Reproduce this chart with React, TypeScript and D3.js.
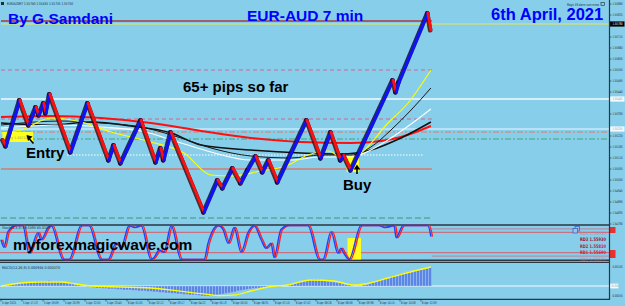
import React from "react";
import * as d3 from "d3";

type P = [number, number];

// ---------- DATA ----------
const priceTicks = [1.5588, 1.55825, 1.5577, 1.55715, 1.5566, 1.55605, 1.5555, 1.55495, 1.5544, 1.55385, 1.5533, 1.55275, 1.5522, 1.55165, 1.5511, 1.55055, 1.55, 1.54945, 1.5489, 1.54835, 1.5478];

const currentPrice = 1.5578;
const boxPrices = [1.55405, 1.55255];

// [bar, price]
const renko: P[] = [
  [0.7, 1.552], [1.7, 1.5517], [6.3, 1.554], [9.3, 1.55275], [11.7, 1.55365], [12.7, 1.55325], [14.3, 1.55385], [15, 1.55335], [16.3, 1.5543],
  [23.3, 1.5514], [29, 1.55385], [36, 1.551], [37.7, 1.55175], [40, 1.55085], [46.7, 1.553], [51.7, 1.5509], [53.3, 1.5516], [54.3, 1.551],
  [56.7, 1.5524], [67.7, 1.5484], [72.3, 1.55], [74, 1.5496], [77.3, 1.5506], [80, 1.54985], [82.3, 1.5505], [85, 1.5512], [87.3, 1.5504],
  [89.3, 1.551], [92.3, 1.5499], [102, 1.553], [106.7, 1.5511], [110, 1.5524], [113.3, 1.551], [114.3, 1.55125], [116.7, 1.5505],
  [130.7, 1.555], [131.7, 1.5544], [132.7, 1.5549], [142.3, 1.55835], [143.3, 1.5575],
];

const maRed: P[] = [[0, 1.55315], [16.7, 1.5532], [33.3, 1.5531], [50, 1.55285], [66.7, 1.55245], [83.3, 1.5521], [100, 1.5519], [116.7, 1.55185], [126.7, 1.55195], [133.3, 1.55215], [143.3, 1.5527]];
const maBlackSlow: P[] = [[0, 1.55285], [16.7, 1.55275], [30, 1.5529], [43.3, 1.5527], [56.7, 1.55235], [66.7, 1.55175], [83.3, 1.5515], [100, 1.55135], [113.3, 1.5513], [123.3, 1.5515], [133.3, 1.5521], [143.3, 1.5529]];
const maBlackFast: P[] = [[0, 1.55275], [20, 1.55295], [33.3, 1.55285], [46.7, 1.55265], [60, 1.5521], [70, 1.5516], [83.3, 1.5512], [96.7, 1.5511], [106.7, 1.55125], [116.7, 1.55125], [123.3, 1.55165], [130, 1.5525], [136.7, 1.5535], [143.3, 1.5546]];
const maWhite: P[] = [[0, 1.5526], [20, 1.55275], [33.3, 1.55265], [46.7, 1.55245], [60, 1.55185], [70, 1.5514], [83.3, 1.551], [96.7, 1.551], [106.7, 1.55115], [116.7, 1.55115], [123.3, 1.5515], [130, 1.5521], [136.7, 1.5528], [143.3, 1.55355]];
const maYellow: P[] = [[0, 1.55235], [6.7, 1.5525], [16.7, 1.5531], [26.7, 1.5529], [36.7, 1.5524], [50, 1.5519], [61, 1.55135], [70, 1.55025], [76.7, 1.5502], [86.7, 1.55045], [95, 1.5507], [102.3, 1.55125], [109, 1.55145], [115, 1.551], [120, 1.55135], [129, 1.55285], [135.7, 1.55385], [143.3, 1.5555]];

const levelPrices = [1.55795, 1.5578, 1.5555, 1.55405, 1.55305, 1.55255, 1.5524, 1.55205, 1.55125, 1.55055, 1.5481];

const stochK: P[] = [
  [0, 58], [1, 36], [2.3, 82], [5, 100], [7.3, 100], [9.3, 18], [12.3, 79], [13.3, 58], [15.7, 94], [16.7, 100], [20.7, 0], [22.7, 0],
  [26.7, 100], [29.3, 100], [33.3, 0], [35.7, 0], [38.3, 48], [40, 36], [42.7, 100], [44.3, 94], [46.7, 100], [50, 0], [51, 6], [52.7, 27],
  [54.3, 21], [56.7, 100], [60, 0], [67.7, 0], [69, 48], [72.3, 100], [74, 88], [75.7, 48], [77.7, 94], [80, 21], [82.3, 79], [84.3, 100],
  [86.7, 58], [88.3, 33], [90, 48], [91, 6], [93.3, 88], [95.7, 100], [102.3, 100], [106, 0], [107.3, 0], [110, 82], [112.3, 18], [113.3, 33],
  [114.3, 18], [116, 0], [120, 100], [126, 100], [127.7, 94], [131, 100], [131.7, 64], [134, 100], [140, 100], [142.3, 100], [143.3, 67],
];
const stochLevels = [80, 20];
const stochOuterLevels = [90, 10];

// MACD histogram, units of 0.00001, one value per bar
const macdHist = [
  0.5, 0.5, 1, 1, 1.5, 2,
  3, 3.5, 4, 4, 4.5,
  4.5, 5, 5, 5, 5, 5.5, 5, 5, 5, 4.5,
  4, 3.5, 3, 2, 1.5, 1, 0.5,
  0, -0.5, -1, -1.5, -2, -2, -2.5, -2.5,
  -3, -3, -3, -3.5, -3.5, -4, -4, -4, -4.5, -4.5, -5, -5, -5, -5.5, -5.5,
  -6, -6, -6.5, -6.5, -7, -7, -7.5, -7.5, -8, -8, -8.5, -8.5, -9, -9, -9, -9.5,
  -10, -10, -10, -9.5, -9.5, -9,
  -8.5, -8, -7.5, -7, -6.5, -6, -5, -4.5, -4, -3.5, -3,
  -2.5, -2.5, -2, -2, -1.5, -1.5, -1, -1, -0.5, -0.5, 0, 0,
  1, 2, 3, 4, 5, 5.5, 6, 6.5, 7, 7, 6.5,
  6, 5.5, 5, 4.5, 4, 3.5, 3, 2, 1.5,
  1, 0.5, 0, 0, 0,
  1, 1.5, 2.5, 3.5, 4.5, 5.5, 6.5, 7.5, 8.5, 9.5, 10.5, 11, 12, 13, 14,
  14.5, 15, 15.5, 16, 16.5, 17, 18, 19,
].map((v) => v * 5);
const macdSignal: P[] = [[0, 0], [6.7, 15], [13.3, 20], [20, 20], [25, 10], [30, 0], [50, -10], [66.7, -38], [73.3, -48], [78.3, -44], [83.3, -25], [89, -5], [95.7, 5], [103.3, 30], [111, 25], [117.7, 5], [121, 10], [129, 40], [137.7, 75], [143.3, 95]];

const timeLabels = ["5 Apr 2021", "5 Apr 17:13", "5 Apr 19:09", "5 Apr 20:39", "5 Apr 22:05", "5 Apr 23:40", "6 Apr 01:05", "6 Apr 02:12", "6 Apr 03:17", "6 Apr 04:22", "6 Apr 05:13", "6 Apr 05:55", "6 Apr 06:31", "6 Apr 07:10", "6 Apr 07:52", "6 Apr 08:26", "6 Apr 08:58", "6 Apr 09:36", "6 Apr 10:15", "6 Apr 10:58", "6 Apr 12:09"];

const rdLabels = ["RD4 1.56050", "RD3 1.55930", "RD2 1.55810", "RD1 1.55690", "RD0 1.55570"];

const entryZone = { from: 0.5, to: 10.7, high: 1.5524, low: 1.5519 };
const buyZone = { from: 115.2, to: 119.3, high: 1.5512, low: 1.5504 };
const stochZone = { from: 115.5, to: 120, high: 63, low: 0 };

// ---------- STYLES ----------
const NOW = 143.6;
const levelStyles = [
  { color: "#a53a40", w: 1.3, dash: "", to: NOW, from: 0 },
  { color: "#e6e655", w: 1.2, dash: "", to: 203, from: 0 },
  { color: "#d4648a", w: 1, dash: "4,3", to: NOW, from: 0 },
  { color: "#f2faff", w: 1.5, dash: "", to: 203, from: 0 },
  { color: "#d4648a", w: 1, dash: "4,3", to: NOW, from: 0 },
  { color: "#eaf6ff", w: 1.2, dash: "", to: 203, from: 0 },
  { color: "#ea785c", w: 1.2, dash: "6,2,2,2", to: 203, from: 0 },
  { color: "#3fa57c", w: 1.2, dash: "6,2,2,2", to: 203, from: 0 },
  { color: "#ffffff", w: 1, dash: "1.5,1.5", to: 141, from: 22 },
  { color: "#c28f8f", w: 2, dash: "", to: NOW, from: 0 },
  { color: "#5aa89e", w: 1.3, dash: "6,3", to: NOW, from: 0 },
];

const font = "'Liberation Sans', Arial, sans-serif";
const tiny = "'Liberation Sans Narrow', 'DejaVu Sans Condensed', sans-serif";

export default function App() {
  const x = d3.scaleLinear().domain([0, 203]).range([1, 610]);
  const y = d3.scaleLinear().domain([1.5478, 1.559]).range([224, 0]);
  const ys = d3.scaleLinear().domain([0, 100]).range([259.5, 225.5]);
  const ym = d3.scaleLinear().domain([-55, 105]).range([297, 265]);

  const ma = d3.line<P>().x((d) => x(d[0])).y((d) => y(d[1])).curve(d3.curveMonotoneX);
  const st = d3.line<P>().x((d) => x(d[0])).y((d) => ys(d[1])).curve(d3.curveMonotoneX);
  const sig = d3.line<P>().x((d) => x(d[0])).y((d) => ym(d[1])).curve(d3.curveMonotoneX);

  const segs = renko.slice(1).map((p, i) => ({ a: renko[i], b: p, up: p[1] > renko[i][1] }));
  const AX = 609.5;
  const LX = 622.5;
  const boxed = [currentPrice, ...boxPrices];
  const shownTicks = priceTicks.filter((p) => boxed.every((b) => Math.abs(y(p) - y(b)) > 4.5));

  return (
    <svg width={625} height={306} style={{ position: "fixed", left: 0, top: 0, display: "block" }} fontFamily={font}>
      <rect x={0} y={0} width={625} height={306} fill="#87ceeb" />

      {/* levels */}
      {levelPrices.map((p, i) => {
        const s = levelStyles[i];
        return (
          <line key={"lv" + i} x1={x(s.from)} x2={Math.min(x(s.to), AX)} y1={y(p)} y2={y(p)} stroke={s.color} strokeWidth={s.w} strokeDasharray={s.dash || undefined} />
        );
      })}

      {/* zones */}
      <rect x={x(entryZone.from)} y={y(entryZone.high)} width={x(entryZone.to) - x(entryZone.from)} height={y(entryZone.low) - y(entryZone.high)} fill="#ffff20" />
      <text x={x(entryZone.from) + 2} y={y(entryZone.low) - 3} fontSize={3.6} fill="#9a9a50" fontFamily={tiny}>Entry 1.55215</text>
      <rect x={x(buyZone.from)} y={y(buyZone.high)} width={x(buyZone.to) - x(buyZone.from)} height={y(buyZone.low) - y(buyZone.high)} fill="#ffff20" />

      {/* moving averages */}
      <path d={ma(maRed) || ""} fill="none" stroke="#ff1010" strokeWidth={2} />
      <path d={ma(maBlackSlow) || ""} fill="none" stroke="#101010" strokeWidth={1.5} />
      <path d={ma(maWhite) || ""} fill="none" stroke="#ffffff" strokeWidth={1.1} />
      <path d={ma(maBlackFast) || ""} fill="none" stroke="#1a1a1a" strokeWidth={1} />
      <path d={ma(maYellow) || ""} fill="none" stroke="#ffff00" strokeWidth={1.1} />

      {/* renko bricks */}
      {segs.map((s, i) => (
        <line key={"u" + i} x1={x(s.a[0]) - 0.7} y1={y(s.a[1]) + 0.3} x2={x(s.b[0]) - 0.7} y2={y(s.b[1]) + 0.3} stroke={s.up ? "#06063a" : "#3a0606"} strokeWidth={4.6} strokeLinecap="round" opacity={0.8} />
      ))}
      {segs.map((s, i) => (
        <line key={"c" + i} x1={x(s.a[0])} y1={y(s.a[1])} x2={x(s.b[0])} y2={y(s.b[1])} stroke={s.up ? "#1010ff" : "#ff1010"} strokeWidth={2.8} strokeLinecap="round" />
      ))}

      {/* annotations */}
      <text x={8} y={23.5} fontSize={15.5} fontWeight="bold" fill="#0000ff">By G.Samdani</text>
      <text x={247} y={21} fontSize={15.5} fontWeight="bold" fill="#0000ff">EUR-AUD 7 min</text>
      <text x={491} y={20} fontSize={16.5} fontWeight="bold" fill="#0000ff">6th April, 2021</text>
      <text x={183} y={92} fontSize={15} fontWeight="bold" fill="#000">65+ pips so far</text>
      <text x={26} y={158} fontSize={15} fontWeight="bold" fill="#000">Entry</text>
      <text x={343} y={190} fontSize={15} fontWeight="bold" fill="#000">Buy</text>
      <line x1={33.5} y1={143.5} x2={29} y2={138.5} stroke="#000" strokeWidth={1.6} />
      <polygon points="26.5,135 32.5,136.5 28,141" fill="#000" />
      <line x1={357} y1={168} x2={357} y2={174} stroke="#000" strokeWidth={1.6} />
      <polygon points="357,164.5 353.8,169.5 360.2,169.5" fill="#000" />

      {/* header texts */}
      <rect x={1} y={2} width={3} height={3} fill="#1a2a3a" />
      <text x={7} y={5} fontSize={3.8} fill="#1a2a3a" fontFamily={tiny} textLength={66} lengthAdjust="spacingAndGlyphs">EURAUDM7 1.55780 1.55835 1.55735 1.55750</text>
      <text x={567} y={5.5} fontSize={3.8} fill="#1a2a3a" fontFamily={tiny} textLength={32} lengthAdjust="spacingAndGlyphs">Magic 39 alarm sum mmw</text>
      <rect x={601} y={2.3} width={3.3} height={3.3} fill="none" stroke="#1a2a3a" strokeWidth={0.6} />

      {/* price axis */}
      {shownTicks.map((p, i) => (
        <g key={"pt" + i}>
          <line x1={AX} x2={AX + 2} y1={y(p)} y2={y(p)} stroke="#223" strokeWidth={0.6} />
          <text x={LX} y={y(p) + 1.4} textAnchor="end" fontSize={3.6} fill="#1a2a3a" fontFamily={tiny} textLength={10} lengthAdjust="spacingAndGlyphs">{p.toFixed(5)}</text>
        </g>
      ))}
      {boxPrices.map((p, i) => (
        <g key={"bx" + i}>
          <rect x={AX} y={y(p) - 2.6} width={15} height={5.2} fill="#f4fbff" />
          <text x={LX} y={y(p) + 1.4} textAnchor="end" fontSize={3.6} fill="#8a9aa8" fontFamily={tiny} textLength={10} lengthAdjust="spacingAndGlyphs">{p.toFixed(5)}</text>
        </g>
      ))}
      <rect x={AX} y={y(currentPrice) - 2.6} width={15} height={5.2} fill="#000" />
      <text x={LX} y={y(currentPrice) + 1.4} textAnchor="end" fontSize={3.6} fill="#fff" fontFamily={tiny} textLength={10} lengthAdjust="spacingAndGlyphs">{currentPrice.toFixed(5)}</text>

      {/* stochastic panel */}
      <line x1={0} x2={AX} y1={225} y2={225} stroke="#2a3640" strokeWidth={1.4} />
      <line x1={0} x2={AX} y1={260.2} y2={260.2} stroke="#2a3640" strokeWidth={1.4} />
      {stochLevels.map((l, i) => (
        <line key={"sl" + i} x1={0} x2={AX} y1={ys(l)} y2={ys(l)} stroke="#d85a6a" strokeWidth={1} />
      ))}
      {stochOuterLevels.map((l, i) => (
        <line key={"so" + i} x1={x(NOW)} x2={AX} y1={ys(l)} y2={ys(l)} stroke="#d85a6a" strokeWidth={0.8} opacity={0.8} />
      ))}
      <rect x={x(stochZone.from)} y={ys(stochZone.high)} width={x(stochZone.to) - x(stochZone.from)} height={ys(stochZone.low) - ys(stochZone.high)} fill="#ffff20" />
      <path d={st(stochK) || ""} fill="none" stroke="#ff2020" strokeWidth={1.4} transform="translate(1.6,0)" />
      <path d={st(stochK) || ""} fill="none" stroke="#2040ff" strokeWidth={1.4} />
      <text x={2} y={229} fontSize={3.8} fill="#1a2a3a" fontFamily={tiny} textLength={48} lengthAdjust="spacingAndGlyphs">Stoch(5,3,3) 89.5393 83.0107</text>
      <text x={13} y={250} fontSize={15.5} fontWeight="bold" fill="#000">myforexmagicwave.com</text>
      <rect x={575} y={226.5} width={4.5} height={4.5} fill="none" stroke="#3a64d0" strokeWidth={0.8} />
      <rect x={573} y={228.5} width={4.5} height={4.5} fill="#9ec4e8" stroke="#3a64d0" strokeWidth={0.8} />
      {rdLabels.map((t, i) => (
        <text key={"rd" + i} x={580} y={234.5 + i * 6.6} fontSize={4.8} fontWeight="bold" fontFamily={tiny} fill={["#c87890", "#a0102a", "#c81040", "#e01030", "#c87890"][i]} opacity={i === 0 || i === 4 ? 0.45 : 1} textLength={26} lengthAdjust="spacingAndGlyphs">{t}</text>
      ))}
      <rect x={AX} y={227} width={6} height={6} fill="#e83030" />
      <rect x={AX} y={250} width={6} height={8} fill="#e83030" />

      {/* MACD panel */}
      <line x1={0} x2={AX} y1={262.3} y2={262.3} stroke="#2a3640" strokeWidth={1.2} />
      <line x1={0} x2={AX} y1={ym(0)} y2={ym(0)} stroke="#f4fbff" strokeWidth={1} />
      {macdHist.map((v, i) => (
        <rect key={"h" + i} x={x(i) - 1.5} width={3} y={Math.min(ym(0), ym(v))} height={Math.abs(ym(v) - ym(0))} fill="#5a86e6" stroke="#b8cdf5" strokeWidth={0.4} />
      ))}
      <path d={sig(macdSignal) || ""} fill="none" stroke="#ffff00" strokeWidth={1.3} />
      <text x={2} y={268.5} fontSize={3.8} fill="#1a2a3a" fontFamily={tiny} textLength={58} lengthAdjust="spacingAndGlyphs">MACD(12,26,9) 0.000948 0.000470</text>
      <text x={LX} y={267.5} textAnchor="end" fontSize={3.6} fill="#1a2a3a" fontFamily={tiny} textLength={10} lengthAdjust="spacingAndGlyphs">0.00105</text>
      <rect x={AX} y={ym(0) - 2.4} width={9} height={4.8} fill="#f4fbff" />
      <text x={611.5} y={ym(0) + 1.4} fontSize={3.6} fill="#8a9aa8" fontFamily={tiny}>0.00</text>
      <text x={LX} y={297} textAnchor="end" fontSize={3.6} fill="#1a2a3a" fontFamily={tiny} textLength={11} lengthAdjust="spacingAndGlyphs">-0.00055</text>

      {/* time axis */}
      <line x1={0} x2={AX} y1={299.3} y2={299.3} stroke="#2a3640" strokeWidth={1.2} />
      {timeLabels.map((t, i) => (
        <g key={"tl" + i}>
          <line x1={x(i * 7)} x2={x(i * 7)} y1={299.5} y2={301.5} stroke="#223" strokeWidth={0.6} />
          <text x={x(i * 7) + 1} y={304} fontSize={3.6} fill="#1a2a3a" fontFamily={tiny} textLength={14.5} lengthAdjust="spacingAndGlyphs">{t}</text>
        </g>
      ))}

      {/* axis line */}
      <line x1={AX} x2={AX} y1={0} y2={300} stroke="#2a3640" strokeWidth={1.2} />
    </svg>
  );
}
